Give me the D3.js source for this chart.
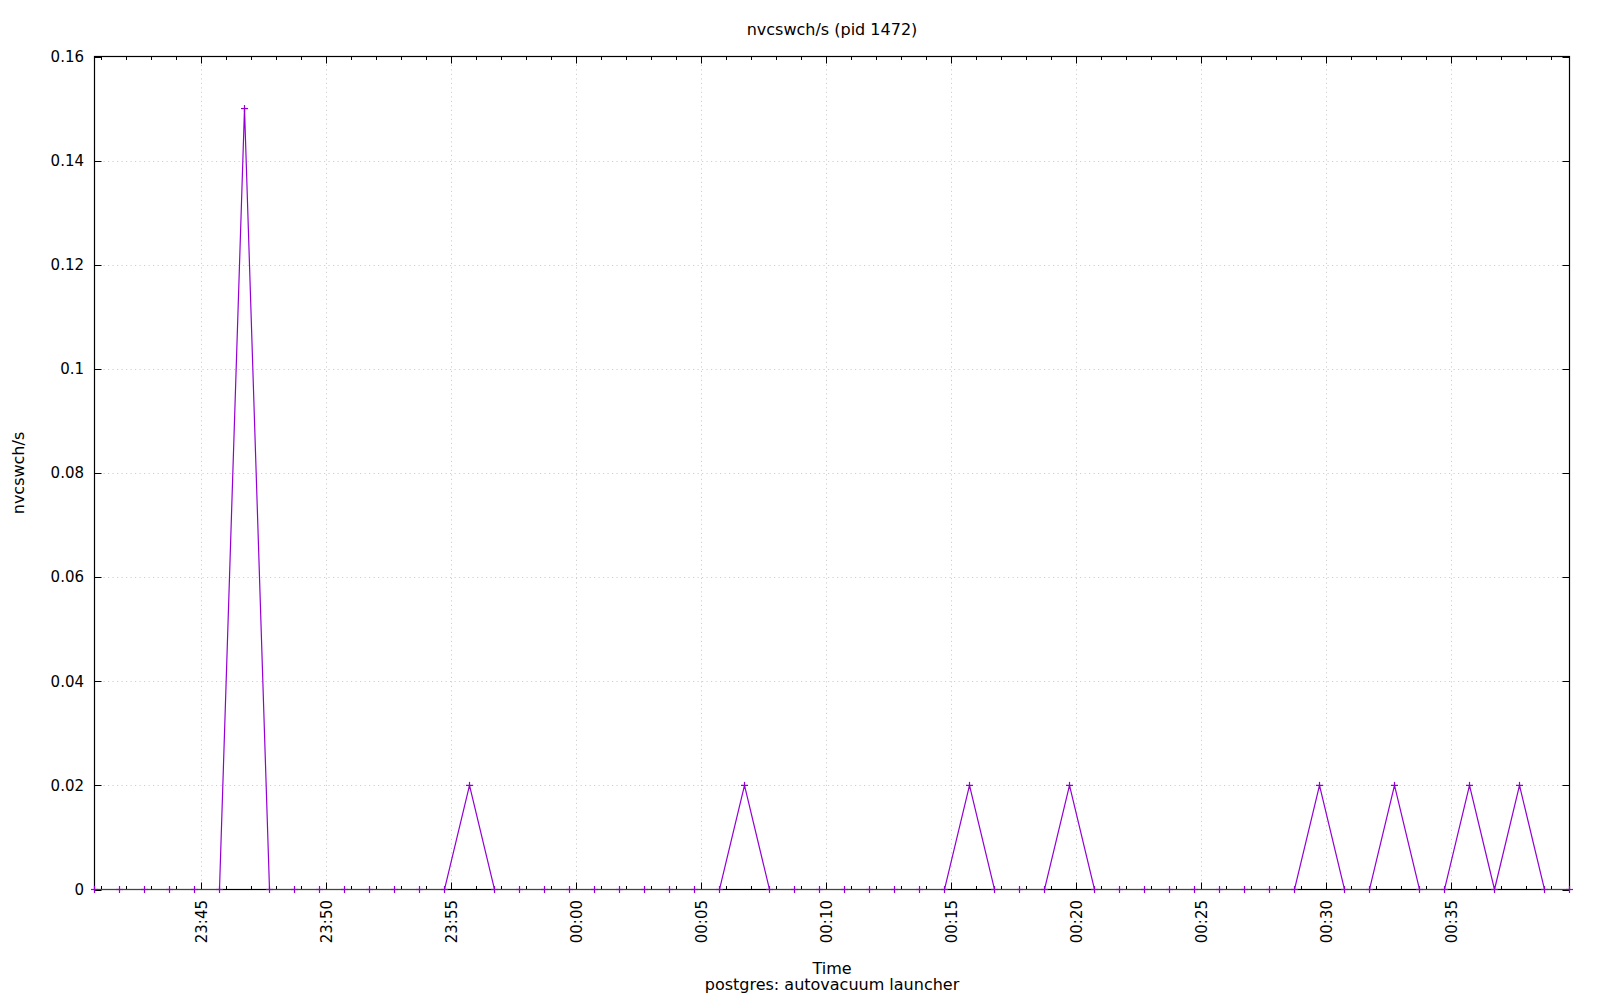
<!DOCTYPE html>
<html>
<head>
<meta charset="utf-8">
<script src="https://cdn.jsdelivr.net/npm/d3@7"></script>
<style>
  html, body { margin: 0; padding: 0; background: #fff; }
  svg { display: block; font-family: "DejaVu Sans", sans-serif; }
</style>
</head>
<body>
<svg id="chart" width="1600" height="1000"></svg>
<script>
// ---- data ----
const chartTitle = "nvcswch/s (pid 1472)";
const yLabel = "nvcswch/s";
const xLabel = "Time";
const subLabel = "postgres: autovacuum launcher";

const times = [
  "23:40:44","23:41:44","23:42:44","23:43:44","23:44:44","23:45:44","23:46:44","23:47:44","23:48:44","23:49:44",
  "23:50:44","23:51:44","23:52:44","23:53:44","23:54:44","23:55:44","23:56:44","23:57:44","23:58:44","23:59:44",
  "00:00:44","00:01:44","00:02:44","00:03:44","00:04:44","00:05:44","00:06:44","00:07:44","00:08:44","00:09:44",
  "00:10:44","00:11:44","00:12:44","00:13:44","00:14:44","00:15:44","00:16:44","00:17:44","00:18:44","00:19:44",
  "00:20:44","00:21:44","00:22:44","00:23:44","00:24:44","00:25:44","00:26:44","00:27:44","00:28:44","00:29:44",
  "00:30:44","00:31:44","00:32:44","00:33:44","00:34:44","00:35:44","00:36:44","00:37:44","00:38:44","00:39:44"
];
const values = [
  0,0,0,0,0,0,0.15,0,0,0,
  0,0,0,0,0,0.02,0,0,0,0,
  0,0,0,0,0,0,0.02,0,0,0,
  0,0,0,0,0,0.02,0,0,0,0.02,
  0,0,0,0,0,0,0,0,0,0.02,
  0,0,0.02,0,0,0.02,0,0.02,0,0
];
const yTicks = [0, 0.02, 0.04, 0.06, 0.08, 0.1, 0.12, 0.14, 0.16];
const yTickLabels = ["0","0.02","0.04","0.06","0.08","0.1","0.12","0.14","0.16"];

// ---- parse ----
function parseT(s) {
  const [h, m, sec] = s.split(":").map(Number);
  const day = h < 12 ? 2 : 1;
  return new Date(Date.UTC(2000, 0, day, h, m, sec));
}
const data = times.map((t, i) => ({ t: parseT(t), v: values[i] }));

// ---- layout ----
const L = 94.5, R = 1569.5, T = 56.5, B = 889.5;
const svg = d3.select("#chart");
const color = "#9400d3";
const FS = 16;
const TFS = 15;

const x = d3.scaleUtc().domain(d3.extent(data, d => d.t)).range([L, R]);
const y = d3.scaleLinear().domain([0, 0.16]).range([B, T]);

const majorX = x.ticks(d3.utcMinute.every(5));
const minorX = x.ticks(d3.utcMinute.every(1));
const fmt = d3.utcFormat("%H:%M");

// grid
const grid = svg.append("g").attr("stroke", "#cfcfcf").attr("stroke-width", 1).attr("stroke-dasharray", "1.2,3.3");
grid.selectAll(".gx").data(majorX).join("line")
  .attr("x1", d => Math.round(x(d)) + 0.5).attr("x2", d => Math.round(x(d)) + 0.5)
  .attr("y1", B).attr("y2", T);
grid.selectAll(".gy").data(yTicks.filter(v => v > 0 && v < 0.16)).join("line")
  .attr("x1", L).attr("x2", R)
  .attr("y1", d => Math.round(y(d)) + 0.5).attr("y2", d => Math.round(y(d)) + 0.5);

// ticks
const ticks = svg.append("g").attr("stroke", "#000").attr("stroke-width", 1);
minorX.forEach(d => {
  const xx = Math.round(x(d)) + 0.5;
  const isMajor = majorX.some(m => +m === +d);
  const len = isMajor ? 7 : 3.5;
  ticks.append("line").attr("x1", xx).attr("x2", xx).attr("y1", B).attr("y2", B - len);
  ticks.append("line").attr("x1", xx).attr("x2", xx).attr("y1", T).attr("y2", T + len);
});
yTicks.forEach(v => {
  const yy = Math.round(y(v)) + 0.5;
  ticks.append("line").attr("x1", L).attr("x2", L + 7).attr("y1", yy).attr("y2", yy);
  ticks.append("line").attr("x1", R).attr("x2", R - 7).attr("y1", yy).attr("y2", yy);
});

// border
svg.append("rect").attr("x", L).attr("y", T).attr("width", R - L).attr("height", B - T)
  .attr("fill", "none").attr("stroke", "#000").attr("stroke-width", 1.2);

// y tick labels
svg.append("g").selectAll("text").data(yTicks).join("text")
  .attr("x", 84).attr("y", d => y(d)).attr("dy", "0.35em")
  .attr("text-anchor", "end").attr("font-size", TFS).attr("fill", "#000")
  .text((d, i) => yTickLabels[i]);

// x tick labels
svg.append("g").selectAll("text").data(majorX).join("text")
  .attr("transform", d => `translate(${x(d) + 1},${900}) rotate(-90)`)
  .attr("dy", "0.35em").attr("text-anchor", "end")
  .attr("font-size", TFS).attr("fill", "#000")
  .text(d => fmt(d));

// line
svg.append("path").datum(data)
  .attr("fill", "none").attr("stroke", color).attr("stroke-width", 1.2)
  .attr("d", d3.line().x(d => x(d.t)).y(d => y(d.v)));

// point markers (+)
const pts = svg.append("g").attr("stroke", color).attr("stroke-width", 1.2);
data.forEach(d => {
  const px = x(d.t), py = y(d.v);
  pts.append("line").attr("x1", px - 3.5).attr("x2", px + 3.5).attr("y1", py).attr("y2", py);
  pts.append("line").attr("x1", px).attr("x2", px).attr("y1", py - 3.5).attr("y2", py + 3.5);
});

// titles
svg.append("text").attr("x", (L + R) / 2).attr("y", 29).attr("dy", "0.35em")
  .attr("text-anchor", "middle").attr("font-size", FS).text(chartTitle);
svg.append("text").attr("x", (L + R) / 2).attr("y", 968).attr("dy", "0.35em")
  .attr("text-anchor", "middle").attr("font-size", FS).text(xLabel);
svg.append("text").attr("x", (L + R) / 2).attr("y", 984).attr("dy", "0.35em")
  .attr("text-anchor", "middle").attr("font-size", FS).text(subLabel);
svg.append("text").attr("transform", `translate(18,${(T + B) / 2}) rotate(-90)`)
  .attr("dy", "0.35em").attr("text-anchor", "middle").attr("font-size", FS).text(yLabel);
</script>
</body>
</html>
